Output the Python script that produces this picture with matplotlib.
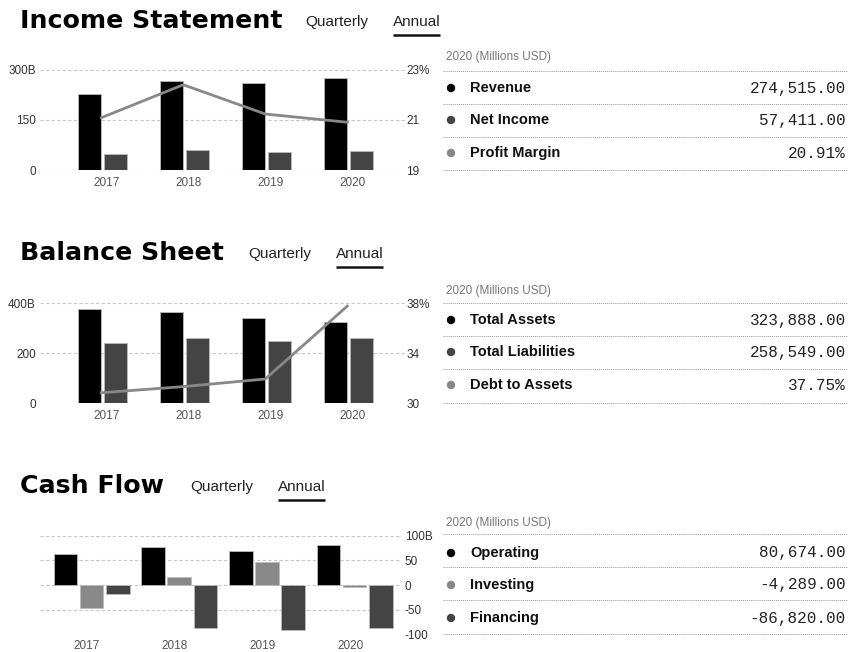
import matplotlib
matplotlib.use("Agg")
import matplotlib.pyplot as plt
from matplotlib.lines import Line2D
from matplotlib.patches import Ellipse

# ---- data (millions USD unless noted) ----
years = ["2017", "2018", "2019", "2020"]

revenue = [229234, 265595, 260174, 274515]
net_income = [48351, 59531, 55256, 57411]
profit_margin = [21.09, 22.41, 21.24, 20.91]          # percent

total_assets = [375319, 365725, 338516, 323888]
total_liabilities = [241272, 258578, 248028, 258549]
debt_to_assets = [30.82, 31.31, 31.92, 37.75]         # percent

operating_cf = [63598, 77434, 69391, 80674]
investing_cf = [-46446, 16066, 45896, -4289]
financing_cf = [-17974, -87876, -90976, -86820]

income_ticks_left = ["0", "150", "300B"]
income_ticks_right = ["19", "21", "23%"]
balance_ticks_left = ["0", "200", "400B"]
balance_ticks_right = ["30", "34", "38%"]
cash_ticks = ["-100", "-50", "0", "50", "100B"]

W, H = 848, 652
fig = plt.figure(figsize=(W / 100, H / 100), dpi=100)
fig.patch.set_facecolor("white")

SANS = "Liberation Sans"
TITLE = "DejaVu Sans"
MONO = "Liberation Mono"
BLACK = "#000000"
DARK = "#444444"
MID = "#888888"
GRID = "#c8c8c8"


def px_axes(x0, y0, x1, y1):
    return fig.add_axes([x0 / W, 1 - y1 / H, (x1 - x0) / W, (y1 - y0) / H])


def px_text(x, y, s, **kw):
    kw.setdefault("family", SANS)
    return fig.text(x / W, 1 - y / H, s, **kw)


def px_hline(x0, x1, y, **kw):
    fig.add_artist(Line2D([x0 / W, x1 / W], [1 - y / H, 1 - y / H],
                          transform=fig.transFigure, **kw))


def header(title, y, q_x, a_x, a_w):
    px_text(20, y, title, fontsize=18.2, fontweight="bold", va="center", ha="left",
            family=TITLE)
    px_text(q_x, y + 1, "Quarterly", fontsize=11, color="#222222", va="center")
    px_text(a_x, y + 1, "Annual", fontsize=11, color="#222222", va="center")
    px_hline(a_x, a_x + a_w, y + 13.5, color="#111111", lw=1.8, solid_capstyle="butt")


def style_axes(ax):
    for s in ax.spines.values():
        s.set_visible(False)
    ax.set_facecolor("none")
    ax.tick_params(length=0, labelsize=8.5, labelcolor="#333333")
    for lab in ax.get_xticklabels() + ax.get_yticklabels():
        lab.set_family(SANS)


def side_table(y_header, y_lines, y_rows, rows):
    px_text(446, y_header, "2020 (Millions USD)", fontsize=8.5, color="#777777", va="center")
    for yl in y_lines:
        px_hline(443, 848, yl, color="#9a9a9a", lw=0.7, linestyle=(0, (1, 1)))
    for yr, (name, val, col) in zip(y_rows, rows):
        fig.add_artist(Ellipse((451 / W, 1 - yr / H), 7 / W, 7 / H,
                               transform=fig.transFigure, color=col))
        px_text(470, yr, name, fontsize=10.5, fontweight="bold", va="center", color="#111111")
        px_text(846, yr, val, fontsize=11.5, family=MONO, va="center", ha="right",
                color="#222222")


xs = range(len(years))
bw = 0.28
edge = dict(edgecolor="#bbbbbb", linewidth=0.6, zorder=3)

# ---------------- Income Statement ----------------
header("Income Statement", 21, 305, 393, 47)
ax1 = px_axes(40, 70, 405, 170)
ax1.bar([i - 0.213 for i in xs], [v / 1000 for v in revenue], bw, color=BLACK, **edge)
ax1.bar([i + 0.104 for i in xs], [v / 1000 for v in net_income], bw, color=DARK, **edge)
ax1.set_ylim(0, 300)
ax1.set_xlim(-0.817, 3.634)
ax1.set_yticks([0, 150, 300], income_ticks_left)
ax1.set_xticks(list(xs), years)
ax1.grid(axis="y", color=GRID, linestyle=(0, (3, 2)), linewidth=0.8, zorder=0)
style_axes(ax1)
ax1.tick_params(axis="y", pad=3)
ax1.tick_params(axis="x", pad=5, labelcolor="#555555")
ax1r = ax1.twinx()
ax1r.plot([i - 0.07 for i in xs], profit_margin, color=MID, lw=2.0, zorder=4)
ax1r.set_ylim(19, 23)
ax1r.set_yticks([19, 21, 23], income_ticks_right)
style_axes(ax1r)
ax1r.tick_params(axis="y", pad=1)

side_table(57, [71, 103.5, 136.5, 169.5], [88, 120, 153], [
    ("Revenue", f"{revenue[-1]:,.2f}", BLACK),
    ("Net Income", f"{net_income[-1]:,.2f}", DARK),
    ("Profit Margin", f"{profit_margin[-1]:.2f}%", MID),
])

# ---------------- Balance Sheet ----------------
header("Balance Sheet", 253, 248, 336, 47)
ax2 = px_axes(40, 303, 405, 403)
ax2.bar([i - 0.213 for i in xs], [v / 1000 for v in total_assets], bw, color=BLACK, **edge)
ax2.bar([i + 0.104 for i in xs], [v / 1000 for v in total_liabilities], bw, color=DARK, **edge)
ax2.set_ylim(0, 400)
ax2.set_xlim(-0.817, 3.634)
ax2.set_yticks([0, 200, 400], balance_ticks_left)
ax2.set_xticks(list(xs), years)
ax2.grid(axis="y", color=GRID, linestyle=(0, (3, 2)), linewidth=0.8, zorder=0)
style_axes(ax2)
ax2.tick_params(axis="y", pad=3)
ax2.tick_params(axis="x", pad=5, labelcolor="#555555")
ax2r = ax2.twinx()
ax2r.plot([i - 0.07 for i in xs], debt_to_assets, color=MID, lw=2.0, zorder=4)
ax2r.set_ylim(30, 38)
ax2r.set_yticks([30, 34, 38], balance_ticks_right)
style_axes(ax2r)
ax2r.tick_params(axis="y", pad=1)

side_table(291, [303, 336, 369, 402.5], [320, 352, 385], [
    ("Total Assets", f"{total_assets[-1]:,.2f}", BLACK),
    ("Total Liabilities", f"{total_liabilities[-1]:,.2f}", DARK),
    ("Debt to Assets", f"{debt_to_assets[-1]:.2f}%", MID),
])

# ---------------- Cash Flow ----------------
header("Cash Flow", 486, 190, 278, 47)
ax3 = px_axes(40, 535.5, 402, 634.5)
cw = 0.27
ax3.bar([i - 0.245 for i in xs], [v / 1000 for v in operating_cf], cw, color=BLACK, **edge)
ax3.bar([i + 0.05 for i in xs], [v / 1000 for v in investing_cf], cw, color=MID, **edge)
ax3.bar([i + 0.35 for i in xs], [v / 1000 for v in financing_cf], cw, color=DARK, **edge)
ax3.set_ylim(-100, 100)
ax3.set_xlim(-0.536, 3.592)
ax3.set_yticks([-100, -50, 0, 50, 100], cash_ticks)
ax3.set_xticks(list(xs), years)
ax3.yaxis.tick_right()
ax3.grid(axis="y", color=GRID, linestyle=(0, (3, 2)), linewidth=0.8, zorder=0)
style_axes(ax3)
ax3.tick_params(axis="y", pad=2)
ax3.tick_params(axis="x", pad=4, labelcolor="#555555")

side_table(523, [533.5, 567, 600, 633.5], [553, 585, 618], [
    ("Operating", f"{operating_cf[-1]:,.2f}", BLACK),
    ("Investing", f"{investing_cf[-1]:,.2f}", MID),
    ("Financing", f"{financing_cf[-1]:,.2f}", DARK),
])

fig.savefig("out.png", dpi=100, facecolor="white")
